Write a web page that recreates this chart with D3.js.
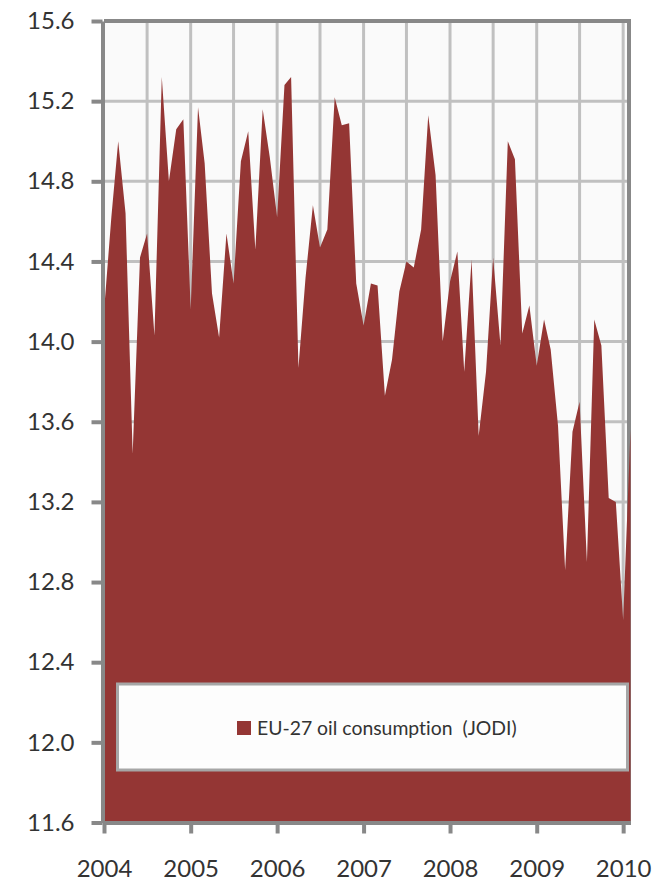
<!DOCTYPE html>
<html lang="en">
<head>
<meta charset="UTF-8">
<title>EU-27 oil consumption (JODI)</title>
<script src="https://d3js.org/d3.v7.min.js"></script>
<style>
    body { margin: 0; background: #fff; }
    svg text { font-family: Lato, "Open Sans", sans-serif; fill: #333; font-variant-ligatures: none; }
</style>
</head>
<body>
<svg width="654" height="882"></svg>
<script>
// monthly data, Jan 2004 .. Feb 2010 (million barrels / day)
var startMonth = new Date(2004, 0, 1);
var consumption = [
    14.15, 14.62, 15.00, 14.64, 13.44, 14.42, 14.54, 14.03, 15.32, 14.80, 15.06, 15.11,  // 2004
    14.16, 15.17, 14.89, 14.24, 14.02, 14.54, 14.29, 14.90, 15.05, 14.46, 15.16, 14.92,  // 2005
    14.62, 15.28, 15.32, 13.87, 14.32, 14.68, 14.47, 14.56, 15.22, 15.08, 15.09, 14.29,  // 2006
    14.08, 14.29, 14.28, 13.73, 13.91, 14.25, 14.40, 14.37, 14.56, 15.13, 14.83, 14.00,  // 2007
    14.30, 14.45, 13.85, 14.41, 13.53, 13.85, 14.42, 13.98, 15.00, 14.91, 14.04, 14.18,  // 2008
    13.88, 14.11, 13.96, 13.58, 12.86, 13.55, 13.70, 12.90, 14.11, 13.98, 13.22, 13.20,  // 2009
    12.61, 13.56                                                                          // 2010
];
var yTicks = [11.6, 12.0, 12.4, 12.8, 13.2, 13.6, 14.0, 14.4, 14.8, 15.2, 15.6];
var seriesName = "EU-27 oil consumption  (JODI)";

var data = consumption.map(function(v, i) {
    return { date: d3.timeMonth.offset(startMonth, i), value: v };
});

var svg = d3.select("svg");

// plot area
var plotLeft = 104, plotRight = 630.5, plotTop = 21, plotBottom = 822.5;

var x = d3.scaleTime()
    .domain([startMonth, data[data.length - 1].date])
    .range([plotLeft, plotRight]);

var y = d3.scaleLinear()
    .domain([11.6, 15.6])
    .range([plotBottom, plotTop]);

// background
svg.append("rect")
    .attr("x", plotLeft).attr("y", plotTop)
    .attr("width", plotRight - plotLeft).attr("height", plotBottom - plotTop)
    .attr("fill", "#fafafa");

// grid lines
var grid = svg.append("g").attr("stroke", "#c0c0c0").attr("stroke-width", 3);

grid.selectAll("line.h")
    .data(yTicks.slice(1, -1))
    .enter().append("line")
    .attr("x1", plotLeft).attr("x2", plotRight)
    .attr("y1", function(d) { return y(d); })
    .attr("y2", function(d) { return y(d); });

grid.selectAll("line.v")
    .data(d3.timeMonth.every(6).range(d3.timeMonth.offset(startMonth, 1), x.domain()[1]))
    .enter().append("line")
    .attr("y1", plotTop).attr("y2", plotBottom)
    .attr("x1", function(d) { return x(d); })
    .attr("x2", function(d) { return x(d); });

// top and right border
svg.append("path")
    .attr("d", "M" + plotLeft + "," + plotTop + "H" + (plotRight - 1.5) + "V" + plotBottom)
    .attr("fill", "none")
    .attr("stroke", "#888")
    .attr("stroke-width", 4);

// the area
var area = d3.area()
    .x(function(d) { return x(d.date); })
    .y0(y(11.6))
    .y1(function(d) { return y(d.value); });

svg.append("path")
    .datum(data)
    .attr("d", area)
    .attr("fill", "#943634");

// legend
var legend = svg.append("g");
legend.append("rect")
    .attr("x", 117.5).attr("y", 684)
    .attr("width", 510).attr("height", 86)
    .attr("fill", "#fdfdfd")
    .attr("stroke", "#a6a6a6")
    .attr("stroke-width", 3);
legend.append("rect")
    .attr("x", 237).attr("y", 721)
    .attr("width", 14).attr("height", 14)
    .attr("fill", "#943634");
legend.append("text")
    .attr("x", 257).attr("y", 735)
    .attr("font-size", 19.4)
    .style("white-space", "pre")
    .text(seriesName);

// axes
var yAxis = d3.axisLeft(y)
    .tickValues(yTicks)
    .tickFormat(d3.format(".1f"))
    .tickSize(11)
    .tickSizeOuter(0)
    .tickPadding(17);

var xAxis = d3.axisBottom(x)
    .ticks(d3.timeYear.every(1))
    .tickFormat(d3.timeFormat("%Y"))
    .tickSize(11)
    .tickSizeOuter(0)
    .tickPadding(26);

var gy = svg.append("g")
    .attr("transform", "translate(" + (plotLeft - 1.5) + ",0)")
    .call(yAxis);

var gx = svg.append("g")
    .attr("transform", "translate(0," + plotBottom + ")")
    .call(xAxis);

[gx, gy].forEach(function(g) {
    g.select(".domain").attr("stroke", "#888").attr("stroke-width", 4);
    g.selectAll(".tick line").attr("stroke", "#888").attr("stroke-width", 4);
    g.selectAll(".tick text").attr("font-size", 24).attr("fill", "#333");
});
</script>
</body>
</html>
